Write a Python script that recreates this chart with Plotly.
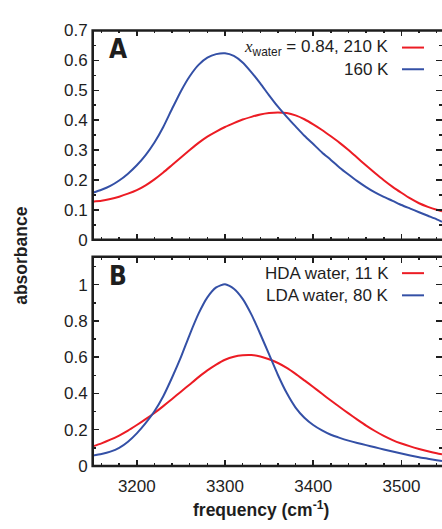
import plotly.graph_objects as go

freq = [3150, 3160, 3170, 3180, 3190, 3200, 3210, 3220, 3230, 3240, 3250, 3260, 3270, 3280, 3290,
        3300, 3310, 3320, 3330, 3340, 3350, 3360, 3370, 3380, 3390, 3400, 3410, 3420, 3430, 3440,
        3450, 3460, 3470, 3480, 3490, 3500, 3510, 3520, 3530, 3540, 3546]

a_210K = [0.127, 0.130, 0.136, 0.144, 0.154, 0.166, 0.182, 0.202, 0.225, 0.250, 0.275, 0.300, 0.324,
          0.345, 0.362, 0.377, 0.390, 0.402, 0.411, 0.419, 0.424, 0.426, 0.424, 0.416, 0.403, 0.386,
          0.367, 0.346, 0.324, 0.300, 0.274, 0.248, 0.223, 0.199, 0.177, 0.157, 0.138, 0.122, 0.110,
          0.100, 0.095]
a_160K = [0.157, 0.167, 0.180, 0.198, 0.221, 0.249, 0.283, 0.325, 0.377, 0.438, 0.497, 0.547, 0.585,
          0.609, 0.621, 0.624, 0.615, 0.593, 0.560, 0.523, 0.483, 0.445, 0.411, 0.379, 0.348, 0.320,
          0.292, 0.267, 0.241, 0.218, 0.196, 0.176, 0.158, 0.143, 0.130, 0.116, 0.104, 0.092, 0.080,
          0.068, 0.060]
a_hda = [0.108, 0.125, 0.145, 0.168, 0.195, 0.226, 0.258, 0.292, 0.330, 0.370, 0.410, 0.450, 0.490,
         0.527, 0.559, 0.586, 0.603, 0.611, 0.612, 0.604, 0.589, 0.568, 0.541, 0.508, 0.472, 0.436,
         0.398, 0.361, 0.325, 0.290, 0.256, 0.223, 0.193, 0.166, 0.143, 0.124, 0.108, 0.094, 0.081,
         0.070, 0.064]
a_lda = [0.057, 0.066, 0.079, 0.100, 0.134, 0.180, 0.236, 0.302, 0.385, 0.488, 0.600, 0.725, 0.840,
         0.930, 0.985, 1.003, 0.978, 0.922, 0.835, 0.728, 0.615, 0.502, 0.402, 0.322, 0.266, 0.226,
         0.196, 0.172, 0.155, 0.140, 0.127, 0.115, 0.103, 0.091, 0.080, 0.069, 0.058, 0.048, 0.040,
         0.032, 0.027]

x_ticks = [3200, 3300, 3400, 3500]
yA_ticks = [0, 0.1, 0.2, 0.3, 0.4, 0.5, 0.6, 0.7]
yA_text = ["0", "0.1", "0.2", "0.3", "0.4", "0.5", "0.6", "0.7"]
yB_ticks = [0, 0.2, 0.4, 0.6, 0.8, 1.0]
yB_text = ["0", "0.2", "0.4", "0.6", "0.8", "1"]

RED = "#ec1c24"
BLUE = "#3450a6"
W, H = 442, 529
FONT = "Liberation Sans, Arial, Helvetica, sans-serif"
INK = "#1e1e1e"


def px(x):
    return x / W


def py(y):
    return 1 - y / H


fig = go.Figure()
for xa, ya, vals, col in [("x", "y", a_210K, RED), ("x", "y", a_160K, BLUE),
                          ("x2", "y2", a_hda, RED), ("x2", "y2", a_lda, BLUE)]:
    fig.add_trace(go.Scatter(x=freq, y=vals, mode="lines",
                             line=dict(color=col, width=2, shape="spline", smoothing=0.6),
                             xaxis=xa, yaxis=ya, showlegend=False, hoverinfo="skip"))

xdom = [92.7 / W, 1.0]
yA_dom = [py(239.3), py(22.3)]
yB_dom = [py(474), py(257)]

tick_common = dict(ticks="inside", ticklen=6, tickwidth=1.5, tickcolor=INK, mirror="ticks",
                   showline=False, showgrid=False, zeroline=False,
                   tickfont=dict(family=FONT, size=17, color=INK))
common_x = dict(tick_common, range=[3150, 3546], domain=xdom, tickvals=x_ticks,
                minor=dict(dtick=20, ticks="inside", ticklen=3, tickwidth=1.5, tickcolor=INK))

fig.update_layout(
    width=W, height=H, margin=dict(l=0, r=0, t=0, b=0),
    paper_bgcolor="white", plot_bgcolor="white",
    xaxis=dict(common_x, anchor="y", showticklabels=False),
    yaxis=dict(tick_common, domain=yA_dom, range=[0, 0.7], anchor="x", tickvals=yA_ticks,
               ticktext=yA_text,
               minor=dict(dtick=0.05, ticks="inside", ticklen=3, tickwidth=1.5, tickcolor=INK),
               ticklabelstandoff=4),
    xaxis2=dict(common_x, anchor="y2", ticklabelstandoff=8),
    yaxis2=dict(tick_common, domain=yB_dom, range=[0, 1.154], anchor="x2", tickvals=yB_ticks,
                ticktext=yB_text,
                minor=dict(dtick=0.1, ticks="inside", ticklen=3, tickwidth=1.5, tickcolor=INK),
                ticklabelstandoff=4),
)

shapes = []
for top, bot in [(22.3, 239.3), (257, 474)]:
    shapes.append(dict(type="rect", xref="paper", yref="paper", x0=px(92.7), x1=1.05,
                       y0=py(bot), y1=py(top), line=dict(color=INK, width=2.6),
                       fillcolor="rgba(0,0,0,0)", layer="above"))
for yy, col in [(40, RED), (62.5, BLUE), (274, RED), (297, BLUE)]:
    shapes.append(dict(type="line", xref="paper", yref="paper", x0=px(402), x1=px(424),
                       y0=py(yy), y1=py(yy), line=dict(color=col, width=2)))
fig.update_layout(shapes=shapes)

ann = []
legend_rows = [
    (40, "<span style='font-family:Liberation Serif, Times New Roman, serif;font-style:italic'>x</span>"
         "<sub>water</sub> = 0.84, 210 K"),
    (62.5, "160 K"),
    (274, "HDA water, 11 K"),
    (297, "LDA water, 80 K"),
]
for yy, txt in legend_rows:
    ann.append(dict(x=px(391), y=py(yy), xref="paper", yref="paper", text=txt, showarrow=False,
                    xanchor="right", yanchor="middle",
                    font=dict(family=FONT, size=17, color=INK)))
for yy, lab in [(42, "A"), (277, "B")]:
    ann.append(dict(x=px(117.5), y=py(yy), xref="paper", yref="paper", text="<b>" + lab + "</b>",
                    showarrow=False, xanchor="center", yanchor="middle",
                    font=dict(family="Liberation Sans Narrow, DejaVu Sans Condensed, Arial Narrow, sans-serif",
                              size=26, color=INK)))
ann.append(dict(x=px(21), y=py(256), xref="paper", yref="paper", text="<b>absorbance</b>",
                showarrow=False, textangle=-90, xanchor="center", yanchor="middle",
                font=dict(family=FONT, size=17.5, color=INK)))
ann.append(dict(x=px(261), y=py(519), xref="paper", yref="paper",
                text="<b>frequency (cm<sup>-1</sup>)</b>",
                showarrow=False, xanchor="center", yanchor="middle",
                font=dict(family=FONT, size=17.5, color=INK)))
fig.update_layout(annotations=ann)

fig.write_html("out.html", config={"displayModeBar": False, "staticPlot": True},
               post_script="document.body.style.margin='0';document.body.style.overflow='hidden';")
